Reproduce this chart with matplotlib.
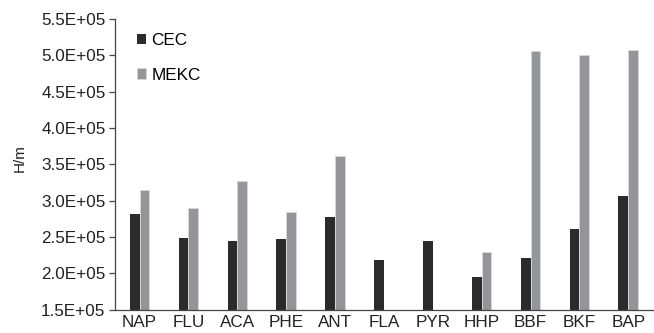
import numpy as np
import matplotlib
matplotlib.use("Agg")
import matplotlib.pyplot as plt

plt.rcParams['font.family'] = ['Liberation Sans', 'DejaVu Sans']

# data
categories = ["NAP", "FLU", "ACA", "PHE", "ANT", "FLA", "PYR", "HHP", "BBF", "BKF", "BAP"]
cec = [2.82e5, 2.49e5, 2.45e5, 2.47e5, 2.78e5, 2.19e5, 2.45e5, 1.95e5, 2.21e5, 2.61e5, 3.06e5]
mekc = [3.15e5, 2.90e5, 3.27e5, 2.84e5, 3.62e5, np.nan, np.nan, 2.29e5, 5.06e5, 5.00e5, 5.07e5]
yticks = [1.5e5, 2.0e5, 2.5e5, 3.0e5, 3.5e5, 4.0e5, 4.5e5, 5.0e5, 5.5e5]

fig = plt.figure(figsize=(6.54, 3.33), dpi=100)
ax = fig.add_axes([0.176, 0.07, 0.822, 0.873])

x = np.arange(len(categories))
w = 0.2
ax.bar(x - w / 2, cec, width=w, color="#2b2b2b", label="CEC")
ax.bar(x + w / 2, mekc, width=w, color="#949599", edgecolor="#d8d8d8", linewidth=0.6, label="MEKC")

ax.set_xlim(-0.5, len(categories) - 0.5)
ax.set_ylim(1.5e5, 5.5e5)
ax.set_yticks(yticks)
ax.set_yticklabels([f"{v / 1e5:.1f}E+05" for v in yticks], fontsize=12.3, color="#222222")
ax.set_xticks(x)
ax.set_xticklabels(categories, fontsize=12.3, color="#222222")
ax.tick_params(axis="x", length=0, pad=4)
ax.tick_params(axis="y", length=4, width=0.9, color="#444444", pad=3)

for s in ["top", "right"]:
    ax.spines[s].set_visible(False)
for s in ["left", "bottom"]:
    ax.spines[s].set_color("#444444")
    ax.spines[s].set_linewidth(0.9)

ax.set_ylabel("H/m", fontsize=11, color="#222222")
ax.yaxis.set_label_coords(-0.165, 0.52)

ax.legend(loc="upper left", bbox_to_anchor=(0.028, 0.975), frameon=False,
          fontsize=12.3, handlelength=0.55, handleheight=0.6, handletextpad=0.3,
          labelspacing=1.15, borderaxespad=0)

fig.savefig("out.png", dpi=100)
